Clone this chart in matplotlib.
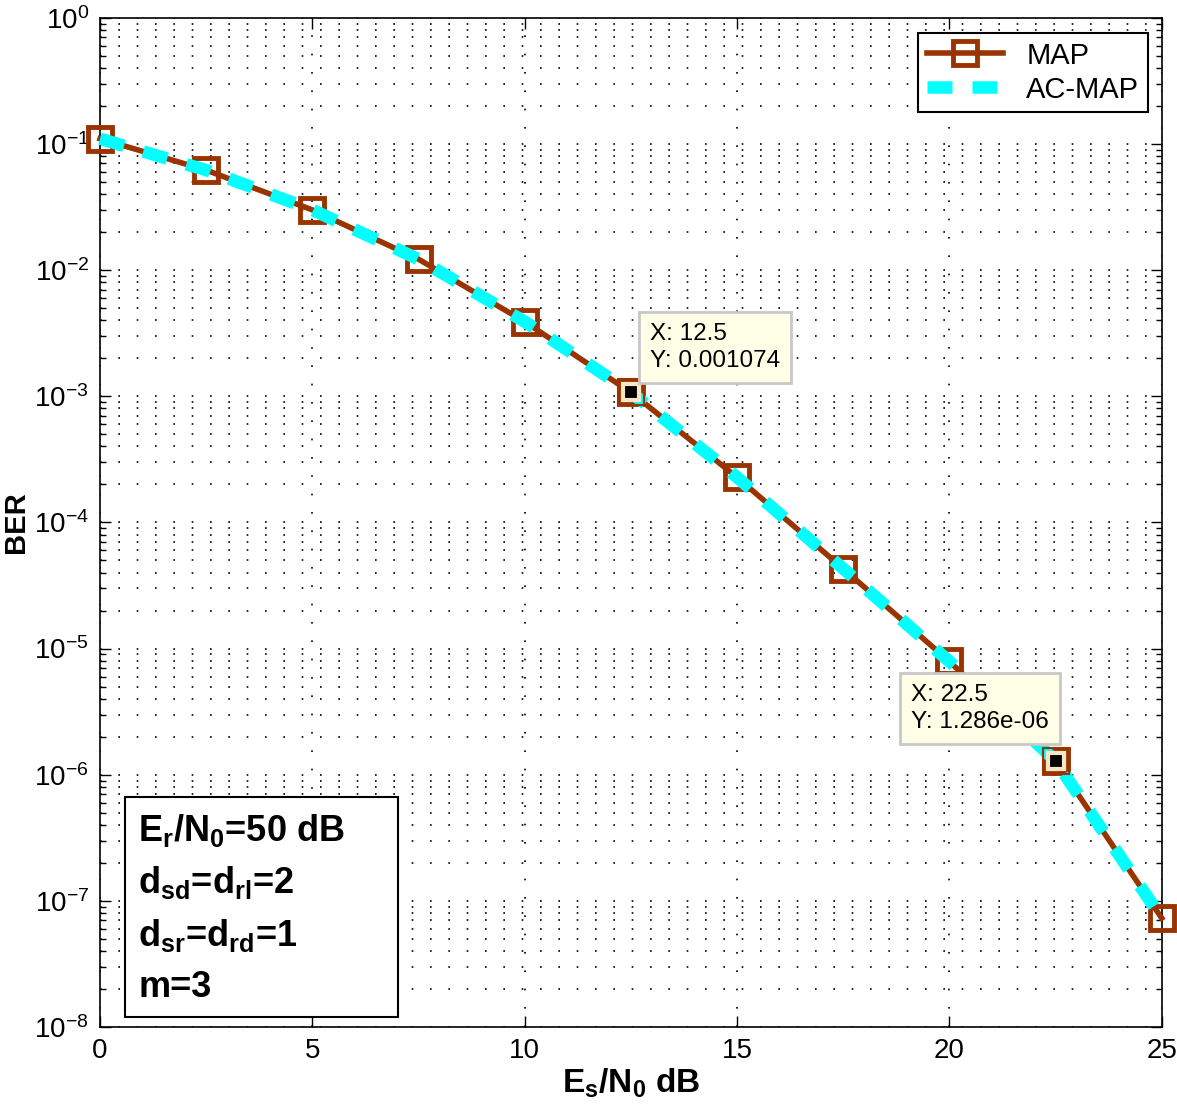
import matplotlib
matplotlib.use('Agg')
import matplotlib.pyplot as plt
from matplotlib.patches import Rectangle
from matplotlib.ticker import LogLocator, NullFormatter, FixedLocator

# Data
snr_db = [0, 2.5, 5, 7.5, 10, 12.5, 15, 17.5, 20, 22.5, 25]
ber_map = [0.11, 0.062, 0.030, 0.0122, 0.0039, 0.001074, 2.28e-4, 4.3e-5, 7.9e-6, 1.286e-6, 7.3e-8]
ber_acmap = [0.11, 0.062, 0.030, 0.0122, 0.0039, 0.001074, 2.28e-4, 4.3e-5, 7.9e-6, 1.286e-6, 7.3e-8]
x_ticks = [0, 5, 10, 15, 20, 25]
tip_x = [12.5, 22.5]
tip_y = [0.001074, 1.286e-6]
tip_text = ['X: 12.5\nY: 0.001074', 'X: 22.5\nY: 1.286e-06']

plt.rcParams['font.family'] = ['Liberation Sans', 'DejaVu Sans']
plt.rcParams['mathtext.fontset'] = 'custom'
plt.rcParams['mathtext.rm'] = 'Liberation Sans'
plt.rcParams['mathtext.bf'] = 'Liberation Sans:bold'

fig = plt.figure(figsize=(11.77, 11.12), dpi=100)
ax = fig.add_axes([0.085, 0.0764, 0.902, 0.9076])

brown = '#993300'
ax.plot(snr_db, ber_map, '-', color=brown, lw=4, marker='s', ms=17,
        mfc='none', mec=brown, mew=3.5, label='MAP', zorder=3, clip_on=False)
ax.plot(snr_db, ber_acmap, linestyle=(0, (2.0, 1.6)), color='#00FFFF', lw=9,
        label='AC-MAP', zorder=4, clip_on=False)

ax.set_yscale('log')
ax.set_xlim(0, 25)
ax.set_ylim(1e-8, 1)
ax.xaxis.set_major_locator(FixedLocator(x_ticks))
ax.yaxis.set_major_locator(LogLocator(base=10, numticks=20))
ax.yaxis.set_minor_locator(LogLocator(base=10, subs=range(2, 10), numticks=20))
ax.yaxis.set_minor_formatter(NullFormatter())
ax.grid(True, which='major', color='black', linestyle=(0, (1, 10)), lw=1.2)
ax.grid(True, which='minor', axis='y', color='black', linestyle=(0, (1, 10)), lw=1.2)
ax.tick_params(which='both', direction='in', top=True, right=True, labelsize=20, pad=8)
ax.tick_params(which='major', length=8, width=1)
ax.tick_params(which='minor', length=4, width=1)
for s in ax.spines.values():
    s.set_linewidth(1.2)

ax.set_xlabel(r'$\mathbf{E_s/N_0}$ dB', fontsize=24, fontweight='bold', labelpad=2)
ax.set_ylabel('BER', fontsize=21, fontweight='bold')
ax.yaxis.set_label_coords(-0.066, 0.5)

# data tips
for x, y in zip(tip_x, tip_y):
    ax.plot([x], [y], marker='s', ms=12, color='black', mec='#f5e6c8', mew=3, zorder=6)
    ax.plot([x], [y], marker='s', ms=19, mfc='none', mec=brown, mew=1.5, zorder=6)
tip_pos = [(12.95, 1.55e-3), (19.1, 2.15e-6)]
for (x, y), (tx, ty), txt in zip(zip(tip_x, tip_y), tip_pos, tip_text):
    ax.annotate(txt, xy=(x, y), xytext=(tx, ty), fontsize=17.5, va='bottom', ha='left',
                linespacing=1.3,
                bbox=dict(boxstyle='square,pad=0.45', fc='#FFFFE8', ec='#c8c8c8', lw=2),
                zorder=7)

leg = ax.legend(loc='upper right', fontsize=21, handlelength=2.6, borderpad=0.3,
                labelspacing=0.2, fancybox=False, framealpha=1, edgecolor='black',
                borderaxespad=0.0, bbox_to_anchor=(0.987, 0.985))
leg.get_frame().set_linewidth(1.5)

# parameter box
ax.add_patch(Rectangle((0.0235, 0.0099), 0.2575, 0.218, transform=ax.transAxes,
                       fc='white', ec='black', lw=1.5, zorder=8))
info_lines = [r'$\mathbf{E_r/N_0}$=50 dB', r'$\mathbf{d_{sd}}$=$\mathbf{d_{rl}}$=2',
              r'$\mathbf{d_{sr}}$=$\mathbf{d_{rd}}$=1', 'm=3']
for i, line in enumerate(info_lines):
    ax.text(0.036, 0.195 - i * 0.052, line, transform=ax.transAxes, fontsize=26,
            fontweight='bold', va='center', ha='left', zorder=9)

fig.savefig('out.png', dpi=100)
